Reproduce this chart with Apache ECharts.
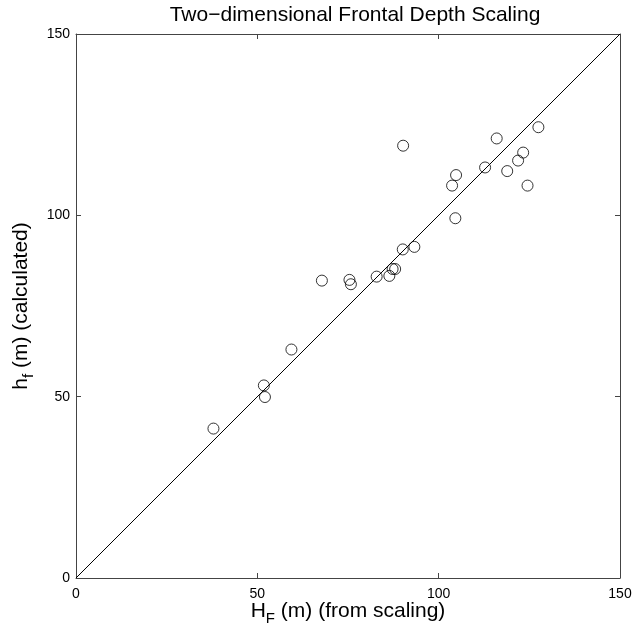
<!DOCTYPE html>
<html>
<head>
<meta charset="utf-8">
<script src="https://cdn.jsdelivr.net/npm/echarts@6/dist/echarts.min.js"></script>
<style>
  html, body { margin: 0; padding: 0; background: #fff; }
  #depthScaling { width: 633px; height: 630px; }
</style>
</head>
<body>
<div id="depthScaling"></div>
<script>
  // H_F from scaling (m)
  var scalingDepth = [37.9, 51.8, 52.1, 59.4, 67.8, 75.4, 75.8, 82.9, 86.4, 87.3, 88.0, 90.1,
    93.3, 90.2, 103.7, 104.8, 104.6, 112.8, 116.0, 118.9, 121.9, 123.3, 124.5, 127.5]
  // h_f calculated (m)
  var calcDepth = [41.2, 53.1, 49.9, 63.0, 82.0, 82.2, 81.0, 83.1, 83.3, 85.2, 85.2, 90.6,
    91.3, 119.2, 108.2, 111.1, 99.2, 113.2, 121.2, 112.2, 115.1, 117.3, 108.2, 124.3]
  var oneToOne = [[0, 0], [150, 150]]
  var tickValues = [0, 50, 100, 150]

  var points = scalingDepth.map(function (v, i) { return [v, calcDepth[i]] })
  var axisColor = '#444'
  var font = 'Liberation Sans, Arial, Helvetica, sans-serif'

  function boxAxis (pos, main) {
    return {
      type: 'value',
      position: pos,
      min: tickValues[0],
      max: tickValues[tickValues.length - 1],
      interval: 50,
      axisLine: { show: true, onZero: false, lineStyle: { color: axisColor, width: 1 } },
      axisTick: { show: true, inside: true, length: 5, lineStyle: { color: axisColor } },
      axisLabel: { show: main, color: '#000', fontSize: 14, fontFamily: font, margin: pos === 'bottom' ? 9 : 6 },
      splitLine: { show: false }
    }
  }

  var nameRich = {
    a: { fontSize: 21, fontFamily: font, color: '#000' },
    s: { fontSize: 15, fontFamily: font, color: '#000', padding: [14, 0, 0, 0] }
  }

  var chart = echarts.init(document.getElementById('depthScaling'))
  var xMain = boxAxis('bottom', true)
  xMain.name = '{a|H}{s|F}{a| (m) (from scaling)}'
  xMain.nameLocation = 'middle'
  xMain.nameGap = 19
  xMain.nameMoveOverlap = false
  xMain.nameTextStyle = { rich: nameRich }
  var yMain = boxAxis('left', true)
  yMain.name = '{a|h}{s|f}{a| (m) (calculated)}'
  yMain.nameLocation = 'middle'
  yMain.nameGap = 40
  yMain.nameMoveOverlap = false
  yMain.nameTextStyle = { rich: nameRich }

  chart.setOption({
    animation: false,
    title: {
      text: 'Two\u2212dimensional Frontal Depth Scaling',
      left: 350,
      textAlign: 'center',
      top: 0,
      textStyle: { fontSize: 21, fontWeight: 'normal', fontFamily: font, color: '#000' }
    },
    grid: { left: 76, top: 34, width: 544, height: 544, containLabel: false, outerBoundsMode: 'none' },
    xAxis: [xMain, boxAxis('top', false)],
    yAxis: [yMain, boxAxis('right', false)],
    series: [{
      type: 'line',
      data: oneToOne,
      symbol: 'none',
      lineStyle: { color: '#000', width: 1 },
      silent: true
    }, {
      type: 'scatter',
      data: points,
      symbol: 'circle',
      symbolSize: 11,
      itemStyle: { color: 'transparent', borderColor: '#000', borderWidth: 1 }
    }]
  })
</script>
</body>
</html>
